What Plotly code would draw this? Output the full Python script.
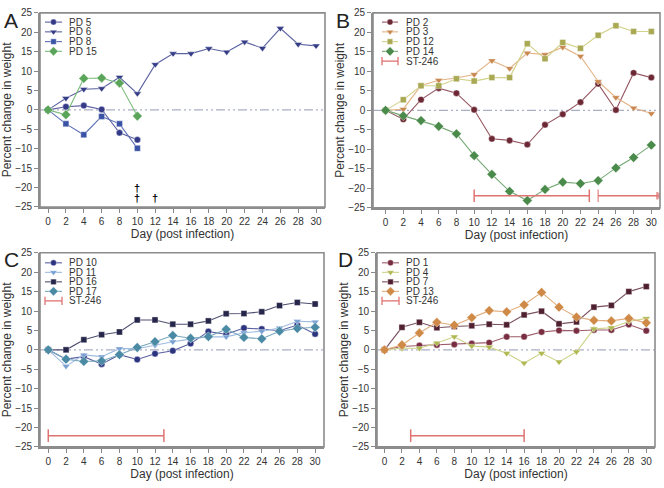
import plotly.graph_objects as go

days = list(range(0, 31, 2))
x_ticks = list(range(0, 31, 2))
y_ticks = list(range(-25, 26, 5))

# Panel A
a_pd5 = [0, 0.8, 1.1, 0.1, -5.9, -7.7]
a_pd6 = [0, 3.0, 5.3, 5.5, 8.4, 4.2, 11.7, 14.5, 14.5, 15.8, 14.9, 17.5, 15.9, 21.0, 16.9, 16.5]
a_pd8 = [0, -3.6, -6.4, -1.7, -3.6, -9.9]
a_pd15 = [0, -1.25, 8.1, 8.2, 6.9, -1.6]
a_dagger_x = [10, 10, 12]
a_dagger_y = [-20.2, -22.7, -22.7]

# Panel B
b_pd2 = [0, -2.3, 2.75, 5.7, 4.4, 0.15, -7.3, -7.7, -8.75, -3.7, -1.0, 2.1, 6.8, 0.1, 9.6, 8.4]
b_pd3 = [0, 0.3, 6.4, 7.7, 8.3, 9.2, 12.75, 10.75, 14.7, 14.3, 16.2, 13.9, 7.4, 3.3, 0.6, -0.8]
b_pd12 = [0, 2.75, 6.3, 6.3, 8.1, 7.5, 8.4, 8.4, 17.1, 13.25, 17.4, 15.9, 19.25, 21.7, 20.2, 20.2]
b_pd14 = [0, -1.4, -2.6, -4.1, -6.0, -11.6, -16.4, -20.75, -23.1, -20.25, -18.4, -18.75, -18.0, -14.75, -12.1, -8.9]
b_st_x = [10, 23]
b_st_arrow_x = [24, 30.8]
b_st_y = -21.9

# Panel C
c_pd10 = [0, -2.4, -1.75, -3.7, -1.25, -2.5, -1.0, -0.25, 1.6, 4.7, 4.0, 5.6, 5.35, 4.9, 6.4, 4.1]
c_pd11 = [0, -4.2, -1.3, -1.75, 0.3, 0.3, 1.2, 2.1, 2.75, 3.35, 3.35, 4.4, 4.8, 5.6, 7.35, 7.2]
c_pd16 = [0, 0, 2.6, 3.9, 4.6, 7.7, 7.7, 6.6, 6.6, 7.45, 9.3, 9.35, 9.8, 11.4, 12.2, 11.8]
c_pd17 = [0, -2.4, -3.0, -2.85, -1.25, 0.6, 2.1, 3.7, 3.0, 3.4, 5.3, 3.2, 2.85, 4.8, 5.5, 5.8]
c_st_x = [0, 13]
c_st_y = -22.1

# Panel D
d_pd1 = [0, 0.85, 1.1, 1.25, 1.4, 1.6, 1.85, 3.35, 3.4, 4.6, 5.0, 4.9, 5.1, 5.1, 6.5, 4.9]
d_pd4 = [0, 0.4, 0.4, 1.75, 3.35, 1.0, 0.7, -0.9, -3.4, -0.85, -3.1, -0.5, 5.4, 5.7, 7.3, 8.1]
d_pd7 = [0, 5.8, 7.1, 5.7, 6.0, 6.2, 6.6, 6.45, 9.0, 9.95, 6.7, 7.2, 11.0, 11.45, 15.0, 16.3]
d_pd13 = [0, 1.25, 4.35, 7.1, 6.35, 8.3, 10.1, 9.8, 11.6, 14.8, 11.0, 8.45, 7.6, 7.45, 8.1, 6.95]
d_st_x = [3, 16]
d_st_y = -22.1

ST_COLOR = "#e07272"
FONT = "Liberation Sans, Arial, sans-serif"
W, H = 664, 488

fig = go.Figure()

# (axis suffix, x domain px, y domain px (top, bottom), x range)
panels = [
    ("", (40, 325), (7, 206), [-0.9, 31.0]),
    ("2", (373, 660), (7, 207), [-1.42, 30.98]),
    ("3", (40, 324), (253, 452), [-0.93, 31.0]),
    ("4", (377, 655), (253, 452), [-0.86, 31.0]),
]

series = [
    [("PD 5", a_pd5, "circle", "#353a88", "#5a5f9e"),
     ("PD 6", a_pd6, "triangle-down", "#353d86", "#5a62a0"),
     ("PD 8", a_pd8, "square", "#3b53a6", "#5a6eb5"),
     ("PD 15", a_pd15, "diamond", "#5aa55a", "#7bbb7b")],
    [("PD 2", b_pd2, "circle", "#6c2834", "#955560"),
     ("PD 3", b_pd3, "triangle-down", "#c98850", "#e2b283"),
     ("PD 12", b_pd12, "square", "#a9a953", "#d2d28a"),
     ("PD 14", b_pd14, "diamond", "#4a8a4a", "#74a874")],
    [("PD 10", c_pd10, "circle", "#2c3480", "#5a60a0"),
     ("PD 11", c_pd11, "triangle-down", "#7aa0d2", "#9dbbe0"),
     ("PD 16", c_pd16, "square", "#26264a", "#4e4e70"),
     ("PD 17", c_pd17, "diamond", "#4a8aa5", "#78a8bd")],
    [("PD 1", d_pd1, "circle", "#782e40", "#9c5a68"),
     ("PD 4", d_pd4, "triangle-down", "#b0b852", "#ccd288"),
     ("PD 7", d_pd7, "square", "#4f2030", "#785060"),
     ("PD 13", d_pd13, "diamond", "#d08a48", "#e0ab78")],
]
has_st = [False, True, True, True]

# legend layout in pixels: (line x0, line x1, text x, first row y, row step)
legend_px = [(45, 62, 67, 16.5, 10), (382, 398, 404, 16.5, 10),
             (45, 62, 67, 263.3, 9.75), (382, 399, 404, 263.3, 9.75)]

MSIZE = {"circle": 6.5, "triangle-down": 7, "square": 6, "diamond": 7.5}

for i, (suf, dxp, dyp, xr) in enumerate(panels):
    xa = "x" + suf
    ya = "y" + suf
    dx = [dxp[0] / W, dxp[1] / W]
    dy = [1 - dyp[1] / H, 1 - dyp[0] / H]
    for name, vals, sym, mcol, lcol in series[i]:
        fig.add_trace(go.Scatter(
            x=days[:len(vals)], y=vals, name=name, mode="lines+markers",
            line=dict(color=lcol, width=1.1),
            marker=dict(symbol=sym, color=mcol, size=MSIZE[sym],
                        line=dict(color="white", width=0.4)),
            xaxis=xa, yaxis=ya, showlegend=False))
    fig.add_shape(type="line", xref="paper", yref=ya,
                  x0=dx[0], x1=dx[1], y0=0, y1=0,
                  line=dict(color="#a9aec4", width=1.1, dash="9px,3px,2px,3px,2px,3px"),
                  layer="below")
    fig.add_shape(type="rect", xref="paper", yref="paper",
                  x0=dx[0], x1=dx[1], y0=dy[0], y1=dy[1],
                  line=dict(color="#8c8c8c", width=1.6), layer="above")
    fig.layout["xaxis" + suf] = dict(
        domain=dx, range=xr, tickvals=x_ticks, ticks="outside", ticklen=4,
        tickcolor="#888", showline=True, linecolor="#8c8c8c", linewidth=1.6,
        showgrid=False, zeroline=False, anchor=ya,
        tickfont=dict(family=FONT, size=10, color="#333"),
        title=dict(text="Day (post infection)", font=dict(family=FONT, size=12, color="#333"), standoff=3))
    fig.layout["yaxis" + suf] = dict(
        domain=dy, range=[-25, 25], tickvals=y_ticks, ticks="outside", ticklen=4,
        tickcolor="#888", showline=True, linecolor="#8c8c8c", linewidth=1.6,
        showgrid=False, zeroline=False, anchor=xa,
        tickfont=dict(family=FONT, size=10, color="#333"),
        title=dict(text="Percent change in weight", font=dict(family=FONT, size=12, color="#333"), standoff=1))

# ST-246 treatment bars
st_specs = [("2", b_st_x, b_st_y), ("3", c_st_x, c_st_y), ("4", d_st_x, d_st_y)]
for suf, xs, yv in st_specs:
    fig.add_trace(go.Scatter(
        x=xs, y=[yv] * len(xs), name="ST-246", mode="lines+markers",
        line=dict(color=ST_COLOR, width=1.5),
        marker=dict(symbol="line-ns", size=9, color=ST_COLOR, line=dict(color=ST_COLOR, width=1.5)),
        xaxis="x" + suf, yaxis="y" + suf, showlegend=False))
fig.add_trace(go.Scatter(
    x=b_st_arrow_x, y=[b_st_y] * 2, mode="lines+markers", showlegend=False,
    line=dict(color=ST_COLOR, width=1.5),
    marker=dict(symbol=["line-ns", "triangle-right"], size=[9, 6], color=ST_COLOR,
                line=dict(color=ST_COLOR, width=1.5)),
    xaxis="x2", yaxis="y2"))

# overlay pixel axis for the hand-drawn legends
fig.layout["xaxis5"] = dict(domain=[0, 1], range=[0, W], visible=False, anchor="y5")
fig.layout["yaxis5"] = dict(domain=[0, 1], range=[H, 0], visible=False, anchor="x5")

for i in range(4):
    lx0, lx1, tx, y0, step = legend_px[i]
    entries = list(series[i])
    for k, (name, vals, sym, mcol, lcol) in enumerate(entries):
        yy = y0 + k * step
        fig.add_trace(go.Scatter(x=[lx0, lx1], y=[yy, yy], mode="lines",
                                 line=dict(color=lcol, width=1.1), showlegend=False,
                                 hoverinfo="skip", xaxis="x5", yaxis="y5"))
        fig.add_trace(go.Scatter(x=[(lx0 + lx1) / 2], y=[yy], mode="markers",
                                 marker=dict(symbol=sym, color=mcol, size=MSIZE[sym] - 0.5,
                                             line=dict(color="white", width=0.4)),
                                 showlegend=False, hoverinfo="skip", xaxis="x5", yaxis="y5"))
        fig.add_annotation(x=tx, y=yy, xref="x5", yref="y5", text=name, showarrow=False,
                           xanchor="left", yanchor="middle",
                           font=dict(family=FONT, size=10, color="#333"))
    if has_st[i]:
        yy = y0 + len(entries) * step
        fig.add_trace(go.Scatter(x=[lx0, lx1], y=[yy, yy], mode="lines+markers",
                                 line=dict(color=ST_COLOR, width=1.3),
                                 marker=dict(symbol="line-ns", size=6, color=ST_COLOR,
                                             line=dict(color=ST_COLOR, width=1.3)),
                                 showlegend=False, hoverinfo="skip", xaxis="x5", yaxis="y5"))
        fig.add_annotation(x=tx, y=yy, xref="x5", yref="y5", text="ST-246", showarrow=False,
                           xanchor="left", yanchor="middle",
                           font=dict(family=FONT, size=10, color="#333"))

# daggers (deaths)
for xv, yv in zip(a_dagger_x, a_dagger_y):
    fig.add_annotation(x=xv, y=yv, xref="x", yref="y", text="<b>†</b>", showarrow=False,
                       font=dict(family=FONT, size=11, color="#000000"))

# panel letters
for txt, px, py in [("A", 2, 1), ("B", 334, 1), ("C", 2, 246), ("D", 336, 246)]:
    fig.add_annotation(x=px / W, y=1 - py / H, xref="paper", yref="paper",
                       text=txt, showarrow=False, xanchor="left", yanchor="top",
                       font=dict(family=FONT, size=21, color="#222"))

fig.update_layout(width=W, height=H, margin=dict(l=0, r=0, t=0, b=0),
                  paper_bgcolor="white", plot_bgcolor="rgba(0,0,0,0)", showlegend=False,
                  font=dict(family=FONT))

fig.write_html("out.html", post_script="document.body.style.margin='0';",
               config={"displayModeBar": False})
